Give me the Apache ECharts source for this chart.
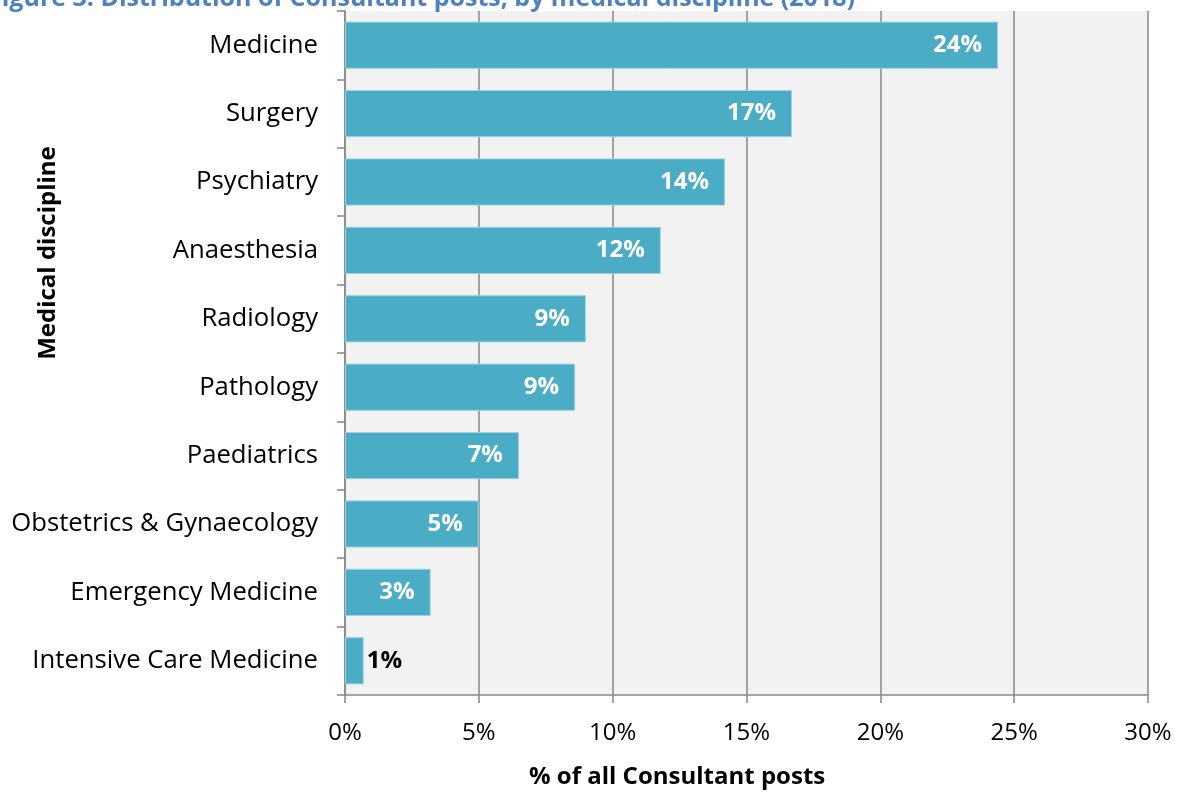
<!DOCTYPE html>
<html>
<head>
<meta charset="utf-8">
<script src="https://cdn.jsdelivr.net/npm/echarts@6/dist/echarts.min.js"></script>
<style>
  html, body { margin: 0; padding: 0; background: #ffffff; }
  #chart { width: 1183px; height: 792px; }
</style>
</head>
<body>
<div id="chart"></div>
<script>
// Share of all Consultant posts by medical discipline (%), listed top to bottom
const disciplines = [
  'Medicine', 'Surgery', 'Psychiatry', 'Anaesthesia', 'Radiology',
  'Pathology', 'Paediatrics', 'Obstetrics & Gynaecology',
  'Emergency Medicine', 'Intensive Care Medicine'
];
const sharePct = [24.4, 16.7, 14.2, 11.8, 9.0, 8.6, 6.5, 5.0, 3.2, 0.7];
const xTicks = [0, 5, 10, 15, 20, 25, 30];

const FONT = 'Open Sans';
const BAR = '#4BACC6';

// category axis runs bottom-up, so feed the lists reversed
const cats = disciplines.slice().reverse();
const vals = sharePct.slice().reverse();

// the smallest bar is too narrow for an inside label: put it outside in black
const barData = vals.map(v => v < 2
  ? { value: v, label: { position: 'right', distance: 3, color: '#000' } }
  : v);

const chart = echarts.init(document.getElementById('chart'));
chart.setOption({
  animation: false,
  backgroundColor: '#ffffff',
  title: {
    text: 'Figure 3: Distribution of Consultant posts, by medical discipline (2018)',
    left: -17, top: -19,
    textStyle: { fontFamily: FONT, fontSize: 25, fontWeight: 'bold', color: '#4F81BD' }
  },
  grid: { left: 345, right: 35, top: 11, bottom: 97, containLabel: false,
          show: true, backgroundColor: '#F2F2F2', borderWidth: 0 },
  xAxis: {
    type: 'value', min: xTicks[0], max: xTicks[xTicks.length - 1], interval: 5,
    axisLine: { show: true, lineStyle: { color: '#878787', width: 1.5 } },
    axisTick: { show: true, length: 8, lineStyle: { color: '#878787', width: 1.5 } },
    splitLine: { show: true, lineStyle: { color: '#878787', width: 1.5 } },
    axisLabel: { formatter: '{value}%', fontFamily: FONT, fontSize: 24, color: '#000', margin: 26 }
  },
  yAxis: {
    type: 'category', data: cats,
    axisLine: { show: true, lineStyle: { color: '#878787', width: 1.5 } },
    axisTick: { show: true, length: 8, lineStyle: { color: '#878787', width: 1.5 } },
    axisLabel: { fontFamily: FONT, fontSize: 25.7, color: '#000', margin: 27 }
  },
  series: [{
    type: 'bar', data: barData, barCategoryGap: '31%',
    itemStyle: { color: BAR, borderColor: '#9DD3E2', borderWidth: 1 },
    label: {
      show: true, position: 'insideRight', distance: 16,
      fontFamily: FONT, fontSize: 24, fontWeight: 'bold', color: '#ffffff',
      formatter: p => Math.round(p.value) + '%'
    }
  }],
  graphic: [
    { type: 'text', left: 529, top: 765,
      style: { text: '% of all Consultant posts', font: 'bold 24px ' + FONT, fill: '#000' } },
    { type: 'text', x: 36, y: 253, rotation: Math.PI / 2, originX: 0, originY: 0,
      style: { text: 'Medical discipline', font: 'bold 24px ' + FONT, fill: '#000',
               align: 'center', verticalAlign: 'top' } }
  ]
});
</script>
</body>
</html>
